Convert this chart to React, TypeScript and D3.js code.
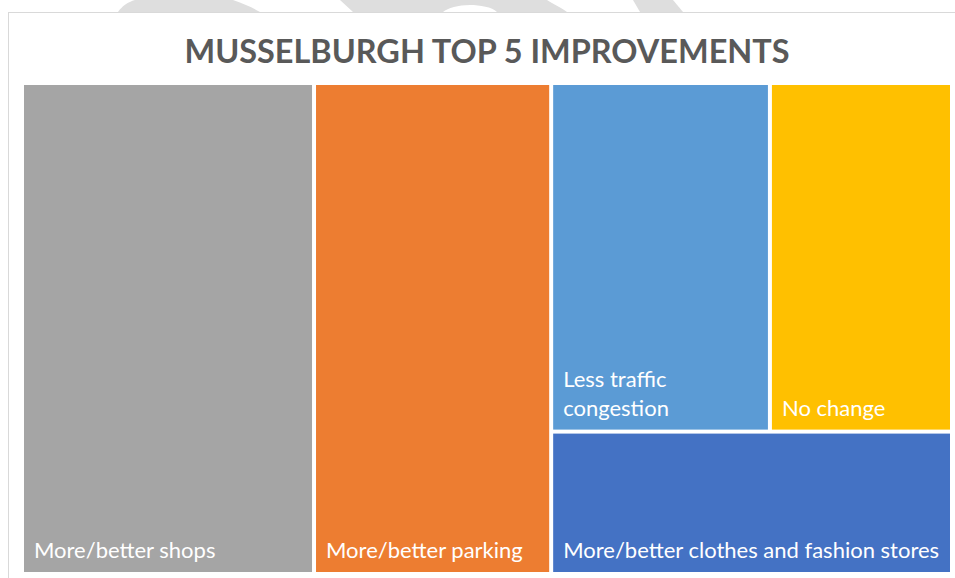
import React, { useMemo } from "react";
import * as d3 from "d3";

const title = "MUSSELBURGH TOP 5 IMPROVEMENTS";
const categories = [
  "More/better shops",
  "More/better parking",
  "Less traffic congestion",
  "No change",
  "More/better clothes and fashion stores",
];
const values = [31.4, 25.5, 16.7, 13.9, 12.5];
const colors = ["#A5A5A5", "#ED7D31", "#5B9BD5", "#FFC000", "#4472C4"];

const W = 955;
const H = 578;
const plot = { x0: 24, y0: 85, x1: 950, y1: 572 };
const LABEL_FONT = "Lato, 'Open Sans', sans-serif";
const LABEL_SIZE = 22;

type Leaf = { name: string; value?: number; color?: string; children?: Leaf[] };

function leaf(i: number): Leaf {
  return { name: categories[i], value: values[i], color: colors[i] };
}

function measure(text: string): number {
  const c = document.createElement("canvas").getContext("2d");
  if (!c) return text.length * 10;
  c.font = `${LABEL_SIZE}px Lato`;
  return c.measureText(text).width;
}

function wrap(text: string, maxW: number): string[] {
  const words = text.split(" ");
  const lines: string[] = [];
  let cur = "";
  for (const w of words) {
    const t = cur ? cur + " " + w : w;
    if (cur && measure(t) > maxW) {
      lines.push(cur);
      cur = w;
    } else cur = t;
  }
  if (cur) lines.push(cur);
  return lines;
}

export default function App() {
  const leaves = useMemo(() => {
    const data: Leaf = {
      name: "root",
      children: [leaf(0), leaf(1), { name: "g", children: [{ name: "t", children: [leaf(2), leaf(3)] }, leaf(4)] }],
    };
    const root = d3.hierarchy<Leaf>(data).sum((d) => d.value || 0);
    d3
      .treemap<Leaf>()
      .tile(d3.treemapSliceDice)
      .paddingInner(4)
      .size([plot.x1 - plot.x0, plot.y1 - plot.y0])(root);
    return (root as d3.HierarchyRectangularNode<Leaf>).leaves();
  }, []);

  // watermark fragments above the chart frame
  const wm = [
    "M118,12 C122,6 128,2 135,0 L233,0 C245,4 253,8 260,12 Z",
    "M340,0 L547,0 C553,4 562,8 567,12 L497,12 C492,7 480,5 470,5 C458,5 448,8 443,12 L353,12 Z",
    "M633,0 L673,0 L683,12 L640,12 Z",
  ];

  return (
    <div style={{ position: "absolute", left: 0, top: 0, width: W, height: H }}>
      <svg width={W} height={H} style={{ display: "block" }}>
        <rect x={0} y={0} width={W} height={H} fill="#ffffff" />
        {wm.map((d, i) => (
          <path key={i} d={d} fill="#dedede" />
        ))}
        <rect x={8.5} y={12.5} width={1000} height={700} fill="#ffffff" stroke="#d9d9d9" strokeWidth={1} />
        <text
          x={(plot.x0 + plot.x1) / 2}
          y={63}
          textAnchor="middle"
          fontFamily={LABEL_FONT}
          fontWeight="bold"
          fontSize={33}
          fill="#595959"
          textLength={605}
          lengthAdjust="spacingAndGlyphs"
        >
          {title}
        </text>
        <g transform={`translate(${plot.x0},${plot.y0})`}>
          {leaves.map((n, i) => {
            const w = n.x1 - n.x0;
            const lines = wrap(n.data.name, w - 16);
            return (
              <g key={i}>
                <rect x={n.x0} y={n.y0} width={w} height={n.y1 - n.y0} fill={n.data.color} />
                <text fontFamily={LABEL_FONT} fontSize={LABEL_SIZE} fill="#ffffff">
                  {lines.map((l, j) => (
                    <tspan key={j} x={n.x0 + 10} y={n.y1 - 14 - (lines.length - 1 - j) * 29}>
                      {l}
                    </tspan>
                  ))}
                </text>
              </g>
            );
          })}
        </g>
      </svg>
    </div>
  );
}
